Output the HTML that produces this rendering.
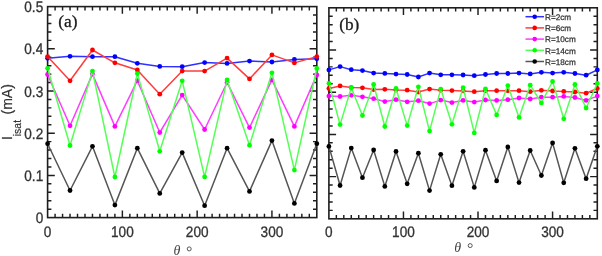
<!DOCTYPE html>
<html><head><meta charset="utf-8"><style>
html,body{margin:0;padding:0;background:#fff;}
body{width:602px;height:256px;overflow:hidden;font-family:"Liberation Sans",sans-serif;}
svg{display:block;}
</style></head><body><div style="will-change:transform;width:602px;height:256px">
<svg width="602" height="256" viewBox="0 0 602 256">
<rect width="602" height="256" fill="#fff"/>
<path d="M55.08 217.6v-3.8M55.08 6.6v3.8M62.56 217.6v-3.8M62.56 6.6v3.8M70.03 217.6v-3.8M70.03 6.6v3.8M77.51 217.6v-3.8M77.51 6.6v3.8M84.99 217.6v-3.8M84.99 6.6v3.8M92.47 217.6v-3.8M92.47 6.6v3.8M99.94 217.6v-3.8M99.94 6.6v3.8M107.42 217.6v-3.8M107.42 6.6v3.8M114.9 217.6v-3.8M114.9 6.6v3.8M122.38 217.6v-7.2M122.38 6.6v7.2M129.86 217.6v-3.8M129.86 6.6v3.8M137.33 217.6v-3.8M137.33 6.6v3.8M144.81 217.6v-3.8M144.81 6.6v3.8M152.29 217.6v-3.8M152.29 6.6v3.8M159.77 217.6v-3.8M159.77 6.6v3.8M167.24 217.6v-3.8M167.24 6.6v3.8M174.72 217.6v-3.8M174.72 6.6v3.8M182.2 217.6v-3.8M182.2 6.6v3.8M189.68 217.6v-3.8M189.68 6.6v3.8M197.16 217.6v-7.2M197.16 6.6v7.2M204.63 217.6v-3.8M204.63 6.6v3.8M212.11 217.6v-3.8M212.11 6.6v3.8M219.59 217.6v-3.8M219.59 6.6v3.8M227.07 217.6v-3.8M227.07 6.6v3.8M234.54 217.6v-3.8M234.54 6.6v3.8M242.02 217.6v-3.8M242.02 6.6v3.8M249.5 217.6v-3.8M249.5 6.6v3.8M256.98 217.6v-3.8M256.98 6.6v3.8M264.46 217.6v-3.8M264.46 6.6v3.8M271.93 217.6v-7.2M271.93 6.6v7.2M279.41 217.6v-3.8M279.41 6.6v3.8M286.89 217.6v-3.8M286.89 6.6v3.8M294.37 217.6v-3.8M294.37 6.6v3.8M301.84 217.6v-3.8M301.84 6.6v3.8M309.32 217.6v-3.8M309.32 6.6v3.8M47.6 209.16h3.8M316.8 209.16h-3.8M47.6 200.72h3.8M316.8 200.72h-3.8M47.6 192.28h3.8M316.8 192.28h-3.8M47.6 183.84h3.8M316.8 183.84h-3.8M47.6 175.4h7.2M316.8 175.4h-7.2M47.6 166.96h3.8M316.8 166.96h-3.8M47.6 158.52h3.8M316.8 158.52h-3.8M47.6 150.08h3.8M316.8 150.08h-3.8M47.6 141.64h3.8M316.8 141.64h-3.8M47.6 133.2h7.2M316.8 133.2h-7.2M47.6 124.76h3.8M316.8 124.76h-3.8M47.6 116.32h3.8M316.8 116.32h-3.8M47.6 107.88h3.8M316.8 107.88h-3.8M47.6 99.44h3.8M316.8 99.44h-3.8M47.6 91h7.2M316.8 91h-7.2M47.6 82.56h3.8M316.8 82.56h-3.8M47.6 74.12h3.8M316.8 74.12h-3.8M47.6 65.68h3.8M316.8 65.68h-3.8M47.6 57.24h3.8M316.8 57.24h-3.8M47.6 48.8h7.2M316.8 48.8h-7.2M47.6 40.36h3.8M316.8 40.36h-3.8M47.6 31.92h3.8M316.8 31.92h-3.8M47.6 23.48h3.8M316.8 23.48h-3.8M47.6 15.04h3.8M316.8 15.04h-3.8" stroke="#1e1e1e" stroke-width="1.45" fill="none"/>
<rect x="47.6" y="6.6" width="269.2" height="211" stroke="#1e1e1e" stroke-width="1.6" fill="none"/>
<path d="M336.36 218.8v-3.8M336.36 7.8v3.8M343.81 218.8v-3.8M343.81 7.8v3.8M351.27 218.8v-3.8M351.27 7.8v3.8M358.72 218.8v-3.8M358.72 7.8v3.8M366.18 218.8v-3.8M366.18 7.8v3.8M373.63 218.8v-3.8M373.63 7.8v3.8M381.09 218.8v-3.8M381.09 7.8v3.8M388.54 218.8v-3.8M388.54 7.8v3.8M396 218.8v-3.8M396 7.8v3.8M403.46 218.8v-7.2M403.46 7.8v7.2M410.91 218.8v-3.8M410.91 7.8v3.8M418.37 218.8v-3.8M418.37 7.8v3.8M425.82 218.8v-3.8M425.82 7.8v3.8M433.28 218.8v-3.8M433.28 7.8v3.8M440.73 218.8v-3.8M440.73 7.8v3.8M448.19 218.8v-3.8M448.19 7.8v3.8M455.64 218.8v-3.8M455.64 7.8v3.8M463.1 218.8v-3.8M463.1 7.8v3.8M470.56 218.8v-3.8M470.56 7.8v3.8M478.01 218.8v-7.2M478.01 7.8v7.2M485.47 218.8v-3.8M485.47 7.8v3.8M492.92 218.8v-3.8M492.92 7.8v3.8M500.38 218.8v-3.8M500.38 7.8v3.8M507.83 218.8v-3.8M507.83 7.8v3.8M515.29 218.8v-3.8M515.29 7.8v3.8M522.74 218.8v-3.8M522.74 7.8v3.8M530.2 218.8v-3.8M530.2 7.8v3.8M537.66 218.8v-3.8M537.66 7.8v3.8M545.11 218.8v-3.8M545.11 7.8v3.8M552.57 218.8v-7.2M552.57 7.8v7.2M560.02 218.8v-3.8M560.02 7.8v3.8M567.48 218.8v-3.8M567.48 7.8v3.8M574.93 218.8v-3.8M574.93 7.8v3.8M582.39 218.8v-3.8M582.39 7.8v3.8M589.84 218.8v-3.8M589.84 7.8v3.8M328.9 210.36h3.8M597.3 210.36h-3.8M328.9 201.92h3.8M597.3 201.92h-3.8M328.9 193.48h3.8M597.3 193.48h-3.8M328.9 185.04h3.8M597.3 185.04h-3.8M328.9 176.6h7.2M597.3 176.6h-7.2M328.9 168.16h3.8M597.3 168.16h-3.8M328.9 159.72h3.8M597.3 159.72h-3.8M328.9 151.28h3.8M597.3 151.28h-3.8M328.9 142.84h3.8M597.3 142.84h-3.8M328.9 134.4h7.2M597.3 134.4h-7.2M328.9 125.96h3.8M597.3 125.96h-3.8M328.9 117.52h3.8M597.3 117.52h-3.8M328.9 109.08h3.8M597.3 109.08h-3.8M328.9 100.64h3.8M597.3 100.64h-3.8M328.9 92.2h7.2M597.3 92.2h-7.2M328.9 83.76h3.8M597.3 83.76h-3.8M328.9 75.32h3.8M597.3 75.32h-3.8M328.9 66.88h3.8M597.3 66.88h-3.8M328.9 58.44h3.8M597.3 58.44h-3.8M328.9 50h7.2M597.3 50h-7.2M328.9 41.56h3.8M597.3 41.56h-3.8M328.9 33.12h3.8M597.3 33.12h-3.8M328.9 24.68h3.8M597.3 24.68h-3.8M328.9 16.24h3.8M597.3 16.24h-3.8" stroke="#1e1e1e" stroke-width="1.45" fill="none"/>
<rect x="328.9" y="7.8" width="268.4" height="211" stroke="#1e1e1e" stroke-width="1.6" fill="none"/>
<polyline points="47.6,58.3 70.03,56.3 92.47,56.7 114.9,56.7 137.33,63.3 159.77,66.4 182.2,66.7 204.63,62.6 227.07,63.4 249.5,61.1 271.93,62 294.37,59.4 316.8,58.8" fill="none" stroke="#3030ff" stroke-width="1.5" stroke-linejoin="round"/>
<circle cx="47.6" cy="58.3" r="2.4" fill="#0000ff"/>
<circle cx="70.03" cy="56.3" r="2.4" fill="#0000ff"/>
<circle cx="92.47" cy="56.7" r="2.4" fill="#0000ff"/>
<circle cx="114.9" cy="56.7" r="2.4" fill="#0000ff"/>
<circle cx="137.33" cy="63.3" r="2.4" fill="#0000ff"/>
<circle cx="159.77" cy="66.4" r="2.4" fill="#0000ff"/>
<circle cx="182.2" cy="66.7" r="2.4" fill="#0000ff"/>
<circle cx="204.63" cy="62.6" r="2.4" fill="#0000ff"/>
<circle cx="227.07" cy="63.4" r="2.4" fill="#0000ff"/>
<circle cx="249.5" cy="61.1" r="2.4" fill="#0000ff"/>
<circle cx="271.93" cy="62" r="2.4" fill="#0000ff"/>
<circle cx="294.37" cy="59.4" r="2.4" fill="#0000ff"/>
<circle cx="316.8" cy="58.8" r="2.4" fill="#0000ff"/>
<polyline points="47.6,56.6 70.03,80.8 92.47,50 114.9,62.8 137.33,70 159.77,94.2 182.2,71.1 204.63,71.1 227.07,58.1 249.5,78.9 271.93,54.9 294.37,62.9 316.8,56.6" fill="none" stroke="#ff3c3c" stroke-width="1.5" stroke-linejoin="round"/>
<circle cx="47.6" cy="56.6" r="2.4" fill="#ff0000"/>
<circle cx="70.03" cy="80.8" r="2.4" fill="#ff0000"/>
<circle cx="92.47" cy="50" r="2.4" fill="#ff0000"/>
<circle cx="114.9" cy="62.8" r="2.4" fill="#ff0000"/>
<circle cx="137.33" cy="70" r="2.4" fill="#ff0000"/>
<circle cx="159.77" cy="94.2" r="2.4" fill="#ff0000"/>
<circle cx="182.2" cy="71.1" r="2.4" fill="#ff0000"/>
<circle cx="204.63" cy="71.1" r="2.4" fill="#ff0000"/>
<circle cx="227.07" cy="58.1" r="2.4" fill="#ff0000"/>
<circle cx="249.5" cy="78.9" r="2.4" fill="#ff0000"/>
<circle cx="271.93" cy="54.9" r="2.4" fill="#ff0000"/>
<circle cx="294.37" cy="62.9" r="2.4" fill="#ff0000"/>
<circle cx="316.8" cy="56.6" r="2.4" fill="#ff0000"/>
<polyline points="47.6,74.5 70.03,125.8 92.47,74.1 114.9,126.4 137.33,80.7 159.77,132.5 182.2,95.1 204.63,129.5 227.07,82.5 249.5,127.6 271.93,79.9 294.37,126.4 316.8,74.9" fill="none" stroke="#ff3cff" stroke-width="1.5" stroke-linejoin="round"/>
<circle cx="47.6" cy="74.5" r="2.4" fill="#ff00ff"/>
<circle cx="70.03" cy="125.8" r="2.4" fill="#ff00ff"/>
<circle cx="92.47" cy="74.1" r="2.4" fill="#ff00ff"/>
<circle cx="114.9" cy="126.4" r="2.4" fill="#ff00ff"/>
<circle cx="137.33" cy="80.7" r="2.4" fill="#ff00ff"/>
<circle cx="159.77" cy="132.5" r="2.4" fill="#ff00ff"/>
<circle cx="182.2" cy="95.1" r="2.4" fill="#ff00ff"/>
<circle cx="204.63" cy="129.5" r="2.4" fill="#ff00ff"/>
<circle cx="227.07" cy="82.5" r="2.4" fill="#ff00ff"/>
<circle cx="249.5" cy="127.6" r="2.4" fill="#ff00ff"/>
<circle cx="271.93" cy="79.9" r="2.4" fill="#ff00ff"/>
<circle cx="294.37" cy="126.4" r="2.4" fill="#ff00ff"/>
<circle cx="316.8" cy="74.9" r="2.4" fill="#ff00ff"/>
<polyline points="47.6,68.3 70.03,145.5 92.47,71.1 114.9,177 137.33,73.6 159.77,151.3 182.2,80.8 204.63,176.9 227.07,79.9 249.5,145.2 271.93,72.8 294.37,170.1 316.8,68.5" fill="none" stroke="#55ff55" stroke-width="1.5" stroke-linejoin="round"/>
<circle cx="47.6" cy="68.3" r="2.4" fill="#00ff00"/>
<circle cx="70.03" cy="145.5" r="2.4" fill="#00ff00"/>
<circle cx="92.47" cy="71.1" r="2.4" fill="#00ff00"/>
<circle cx="114.9" cy="177" r="2.4" fill="#00ff00"/>
<circle cx="137.33" cy="73.6" r="2.4" fill="#00ff00"/>
<circle cx="159.77" cy="151.3" r="2.4" fill="#00ff00"/>
<circle cx="182.2" cy="80.8" r="2.4" fill="#00ff00"/>
<circle cx="204.63" cy="176.9" r="2.4" fill="#00ff00"/>
<circle cx="227.07" cy="79.9" r="2.4" fill="#00ff00"/>
<circle cx="249.5" cy="145.2" r="2.4" fill="#00ff00"/>
<circle cx="271.93" cy="72.8" r="2.4" fill="#00ff00"/>
<circle cx="294.37" cy="170.1" r="2.4" fill="#00ff00"/>
<circle cx="316.8" cy="68.5" r="2.4" fill="#00ff00"/>
<polyline points="47.6,143.7 70.03,190.5 92.47,146.3 114.9,205.1 137.33,148.2 159.77,193.4 182.2,152.6 204.63,205.7 227.07,148.2 249.5,191.4 271.93,140.6 294.37,203.4 316.8,143.7" fill="none" stroke="#555555" stroke-width="1.5" stroke-linejoin="round"/>
<circle cx="47.6" cy="143.7" r="2.4" fill="#000000"/>
<circle cx="70.03" cy="190.5" r="2.4" fill="#000000"/>
<circle cx="92.47" cy="146.3" r="2.4" fill="#000000"/>
<circle cx="114.9" cy="205.1" r="2.4" fill="#000000"/>
<circle cx="137.33" cy="148.2" r="2.4" fill="#000000"/>
<circle cx="159.77" cy="193.4" r="2.4" fill="#000000"/>
<circle cx="182.2" cy="152.6" r="2.4" fill="#000000"/>
<circle cx="204.63" cy="205.7" r="2.4" fill="#000000"/>
<circle cx="227.07" cy="148.2" r="2.4" fill="#000000"/>
<circle cx="249.5" cy="191.4" r="2.4" fill="#000000"/>
<circle cx="271.93" cy="140.6" r="2.4" fill="#000000"/>
<circle cx="294.37" cy="203.4" r="2.4" fill="#000000"/>
<circle cx="316.8" cy="143.7" r="2.4" fill="#000000"/>
<polyline points="328.9,69.9 340.08,66.6 351.27,69.7 362.45,70.6 373.63,73.1 384.82,73.4 396,74.1 407.18,74.5 418.37,77 429.55,73.1 440.73,74.8 451.92,74.8 463.1,75 474.28,75.7 485.47,74.5 496.65,73.5 507.83,73.5 519.02,73.1 530.2,73.9 541.38,72.3 552.57,73.1 563.75,72.3 574.93,73.5 586.12,75.2 597.3,69.9" fill="none" stroke="#3030ff" stroke-width="1.5" stroke-linejoin="round"/>
<circle cx="328.9" cy="69.9" r="2.4" fill="#0000ff"/>
<circle cx="340.08" cy="66.6" r="2.4" fill="#0000ff"/>
<circle cx="351.27" cy="69.7" r="2.4" fill="#0000ff"/>
<circle cx="362.45" cy="70.6" r="2.4" fill="#0000ff"/>
<circle cx="373.63" cy="73.1" r="2.4" fill="#0000ff"/>
<circle cx="384.82" cy="73.4" r="2.4" fill="#0000ff"/>
<circle cx="396" cy="74.1" r="2.4" fill="#0000ff"/>
<circle cx="407.18" cy="74.5" r="2.4" fill="#0000ff"/>
<circle cx="418.37" cy="77" r="2.4" fill="#0000ff"/>
<circle cx="429.55" cy="73.1" r="2.4" fill="#0000ff"/>
<circle cx="440.73" cy="74.8" r="2.4" fill="#0000ff"/>
<circle cx="451.92" cy="74.8" r="2.4" fill="#0000ff"/>
<circle cx="463.1" cy="75" r="2.4" fill="#0000ff"/>
<circle cx="474.28" cy="75.7" r="2.4" fill="#0000ff"/>
<circle cx="485.47" cy="74.5" r="2.4" fill="#0000ff"/>
<circle cx="496.65" cy="73.5" r="2.4" fill="#0000ff"/>
<circle cx="507.83" cy="73.5" r="2.4" fill="#0000ff"/>
<circle cx="519.02" cy="73.1" r="2.4" fill="#0000ff"/>
<circle cx="530.2" cy="73.9" r="2.4" fill="#0000ff"/>
<circle cx="541.38" cy="72.3" r="2.4" fill="#0000ff"/>
<circle cx="552.57" cy="73.1" r="2.4" fill="#0000ff"/>
<circle cx="563.75" cy="72.3" r="2.4" fill="#0000ff"/>
<circle cx="574.93" cy="73.5" r="2.4" fill="#0000ff"/>
<circle cx="586.12" cy="75.2" r="2.4" fill="#0000ff"/>
<circle cx="597.3" cy="69.9" r="2.4" fill="#0000ff"/>
<polyline points="328.9,88.5 340.08,85.9 351.27,87.6 362.45,87.8 373.63,89.6 384.82,89.3 396,90 407.18,90.2 418.37,92 429.55,89.1 440.73,90.3 451.92,90.6 463.1,90.9 474.28,91.7 485.47,90.7 496.65,90.7 507.83,90.7 519.02,90.7 530.2,91.7 541.38,90.3 552.57,91 563.75,91.4 574.93,92 586.12,93.2 597.3,88.5" fill="none" stroke="#ff3c3c" stroke-width="1.5" stroke-linejoin="round"/>
<circle cx="328.9" cy="88.5" r="2.4" fill="#ff0000"/>
<circle cx="340.08" cy="85.9" r="2.4" fill="#ff0000"/>
<circle cx="351.27" cy="87.6" r="2.4" fill="#ff0000"/>
<circle cx="362.45" cy="87.8" r="2.4" fill="#ff0000"/>
<circle cx="373.63" cy="89.6" r="2.4" fill="#ff0000"/>
<circle cx="384.82" cy="89.3" r="2.4" fill="#ff0000"/>
<circle cx="396" cy="90" r="2.4" fill="#ff0000"/>
<circle cx="407.18" cy="90.2" r="2.4" fill="#ff0000"/>
<circle cx="418.37" cy="92" r="2.4" fill="#ff0000"/>
<circle cx="429.55" cy="89.1" r="2.4" fill="#ff0000"/>
<circle cx="440.73" cy="90.3" r="2.4" fill="#ff0000"/>
<circle cx="451.92" cy="90.6" r="2.4" fill="#ff0000"/>
<circle cx="463.1" cy="90.9" r="2.4" fill="#ff0000"/>
<circle cx="474.28" cy="91.7" r="2.4" fill="#ff0000"/>
<circle cx="485.47" cy="90.7" r="2.4" fill="#ff0000"/>
<circle cx="496.65" cy="90.7" r="2.4" fill="#ff0000"/>
<circle cx="507.83" cy="90.7" r="2.4" fill="#ff0000"/>
<circle cx="519.02" cy="90.7" r="2.4" fill="#ff0000"/>
<circle cx="530.2" cy="91.7" r="2.4" fill="#ff0000"/>
<circle cx="541.38" cy="90.3" r="2.4" fill="#ff0000"/>
<circle cx="552.57" cy="91" r="2.4" fill="#ff0000"/>
<circle cx="563.75" cy="91.4" r="2.4" fill="#ff0000"/>
<circle cx="574.93" cy="92" r="2.4" fill="#ff0000"/>
<circle cx="586.12" cy="93.2" r="2.4" fill="#ff0000"/>
<circle cx="597.3" cy="88.5" r="2.4" fill="#ff0000"/>
<polyline points="328.9,96.1 340.08,96.5 351.27,95.3 362.45,96.8 373.63,98.7 384.82,101.6 396,99.7 407.18,101.8 418.37,100.7 429.55,103.6 440.73,100.1 451.92,102.6 463.1,100.4 474.28,102.1 485.47,100 496.65,100.4 507.83,99.7 519.02,98 530.2,99 541.38,97.2 552.57,97.2 563.75,96.4 574.93,97.5 586.12,100.4 597.3,96.1" fill="none" stroke="#ff3cff" stroke-width="1.5" stroke-linejoin="round"/>
<circle cx="328.9" cy="96.1" r="2.4" fill="#ff00ff"/>
<circle cx="340.08" cy="96.5" r="2.4" fill="#ff00ff"/>
<circle cx="351.27" cy="95.3" r="2.4" fill="#ff00ff"/>
<circle cx="362.45" cy="96.8" r="2.4" fill="#ff00ff"/>
<circle cx="373.63" cy="98.7" r="2.4" fill="#ff00ff"/>
<circle cx="384.82" cy="101.6" r="2.4" fill="#ff00ff"/>
<circle cx="396" cy="99.7" r="2.4" fill="#ff00ff"/>
<circle cx="407.18" cy="101.8" r="2.4" fill="#ff00ff"/>
<circle cx="418.37" cy="100.7" r="2.4" fill="#ff00ff"/>
<circle cx="429.55" cy="103.6" r="2.4" fill="#ff00ff"/>
<circle cx="440.73" cy="100.1" r="2.4" fill="#ff00ff"/>
<circle cx="451.92" cy="102.6" r="2.4" fill="#ff00ff"/>
<circle cx="463.1" cy="100.4" r="2.4" fill="#ff00ff"/>
<circle cx="474.28" cy="102.1" r="2.4" fill="#ff00ff"/>
<circle cx="485.47" cy="100" r="2.4" fill="#ff00ff"/>
<circle cx="496.65" cy="100.4" r="2.4" fill="#ff00ff"/>
<circle cx="507.83" cy="99.7" r="2.4" fill="#ff00ff"/>
<circle cx="519.02" cy="98" r="2.4" fill="#ff00ff"/>
<circle cx="530.2" cy="99" r="2.4" fill="#ff00ff"/>
<circle cx="541.38" cy="97.2" r="2.4" fill="#ff00ff"/>
<circle cx="552.57" cy="97.2" r="2.4" fill="#ff00ff"/>
<circle cx="563.75" cy="96.4" r="2.4" fill="#ff00ff"/>
<circle cx="574.93" cy="97.5" r="2.4" fill="#ff00ff"/>
<circle cx="586.12" cy="100.4" r="2.4" fill="#ff00ff"/>
<circle cx="597.3" cy="96.1" r="2.4" fill="#ff00ff"/>
<polyline points="328.9,83.4 340.08,124.6 351.27,87.7 362.45,115.5 373.63,84.5 384.82,126.5 396,88.5 407.18,125.6 418.37,86.8 429.55,131.1 440.73,89.1 451.92,124.3 463.1,87.6 474.28,132.9 485.47,88.8 496.65,114.9 507.83,85.6 519.02,117.4 530.2,85.2 541.38,102.9 552.57,81.5 563.75,118.8 574.93,84.5 586.12,108 597.3,83.4" fill="none" stroke="#55ff55" stroke-width="1.5" stroke-linejoin="round"/>
<circle cx="328.9" cy="83.4" r="2.4" fill="#00ff00"/>
<circle cx="340.08" cy="124.6" r="2.4" fill="#00ff00"/>
<circle cx="351.27" cy="87.7" r="2.4" fill="#00ff00"/>
<circle cx="362.45" cy="115.5" r="2.4" fill="#00ff00"/>
<circle cx="373.63" cy="84.5" r="2.4" fill="#00ff00"/>
<circle cx="384.82" cy="126.5" r="2.4" fill="#00ff00"/>
<circle cx="396" cy="88.5" r="2.4" fill="#00ff00"/>
<circle cx="407.18" cy="125.6" r="2.4" fill="#00ff00"/>
<circle cx="418.37" cy="86.8" r="2.4" fill="#00ff00"/>
<circle cx="429.55" cy="131.1" r="2.4" fill="#00ff00"/>
<circle cx="440.73" cy="89.1" r="2.4" fill="#00ff00"/>
<circle cx="451.92" cy="124.3" r="2.4" fill="#00ff00"/>
<circle cx="463.1" cy="87.6" r="2.4" fill="#00ff00"/>
<circle cx="474.28" cy="132.9" r="2.4" fill="#00ff00"/>
<circle cx="485.47" cy="88.8" r="2.4" fill="#00ff00"/>
<circle cx="496.65" cy="114.9" r="2.4" fill="#00ff00"/>
<circle cx="507.83" cy="85.6" r="2.4" fill="#00ff00"/>
<circle cx="519.02" cy="117.4" r="2.4" fill="#00ff00"/>
<circle cx="530.2" cy="85.2" r="2.4" fill="#00ff00"/>
<circle cx="541.38" cy="102.9" r="2.4" fill="#00ff00"/>
<circle cx="552.57" cy="81.5" r="2.4" fill="#00ff00"/>
<circle cx="563.75" cy="118.8" r="2.4" fill="#00ff00"/>
<circle cx="574.93" cy="84.5" r="2.4" fill="#00ff00"/>
<circle cx="586.12" cy="108" r="2.4" fill="#00ff00"/>
<circle cx="597.3" cy="83.4" r="2.4" fill="#00ff00"/>
<polyline points="328.9,146.4 340.08,185.5 351.27,148.1 362.45,177.7 373.63,150 384.82,186.4 396,151.4 407.18,183.8 418.37,153.2 429.55,190.6 440.73,154.3 451.92,185.7 463.1,151.3 474.28,187.4 485.47,150.2 496.65,180.9 507.83,147 519.02,182.6 530.2,150.5 541.38,175.5 552.57,142.9 563.75,182.8 574.93,148.3 586.12,178.7 597.3,146.3" fill="none" stroke="#555555" stroke-width="1.5" stroke-linejoin="round"/>
<circle cx="328.9" cy="146.4" r="2.4" fill="#000000"/>
<circle cx="340.08" cy="185.5" r="2.4" fill="#000000"/>
<circle cx="351.27" cy="148.1" r="2.4" fill="#000000"/>
<circle cx="362.45" cy="177.7" r="2.4" fill="#000000"/>
<circle cx="373.63" cy="150" r="2.4" fill="#000000"/>
<circle cx="384.82" cy="186.4" r="2.4" fill="#000000"/>
<circle cx="396" cy="151.4" r="2.4" fill="#000000"/>
<circle cx="407.18" cy="183.8" r="2.4" fill="#000000"/>
<circle cx="418.37" cy="153.2" r="2.4" fill="#000000"/>
<circle cx="429.55" cy="190.6" r="2.4" fill="#000000"/>
<circle cx="440.73" cy="154.3" r="2.4" fill="#000000"/>
<circle cx="451.92" cy="185.7" r="2.4" fill="#000000"/>
<circle cx="463.1" cy="151.3" r="2.4" fill="#000000"/>
<circle cx="474.28" cy="187.4" r="2.4" fill="#000000"/>
<circle cx="485.47" cy="150.2" r="2.4" fill="#000000"/>
<circle cx="496.65" cy="180.9" r="2.4" fill="#000000"/>
<circle cx="507.83" cy="147" r="2.4" fill="#000000"/>
<circle cx="519.02" cy="182.6" r="2.4" fill="#000000"/>
<circle cx="530.2" cy="150.5" r="2.4" fill="#000000"/>
<circle cx="541.38" cy="175.5" r="2.4" fill="#000000"/>
<circle cx="552.57" cy="142.9" r="2.4" fill="#000000"/>
<circle cx="563.75" cy="182.8" r="2.4" fill="#000000"/>
<circle cx="574.93" cy="148.3" r="2.4" fill="#000000"/>
<circle cx="586.12" cy="178.7" r="2.4" fill="#000000"/>
<circle cx="597.3" cy="146.3" r="2.4" fill="#000000"/>
<g text-rendering="geometricPrecision" font-family="Liberation Sans, sans-serif" font-size="13.6" fill="#333" stroke="#333" stroke-width="0.3"><text transform="translate(43.2 12.2) scale(1 1.12)" text-anchor="end">0.5</text>
<text transform="translate(43.2 54.4) scale(1 1.12)" text-anchor="end">0.4</text>
<text transform="translate(43.2 96.6) scale(1 1.12)" text-anchor="end">0.3</text>
<text transform="translate(43.2 138.8) scale(1 1.12)" text-anchor="end">0.2</text>
<text transform="translate(43.2 181) scale(1 1.12)" text-anchor="end">0.1</text>
<text transform="translate(43.2 223.2) scale(1 1.12)" text-anchor="end">0</text>
<text transform="translate(47.6 236.6) scale(1 1.12)" text-anchor="middle">0</text>
<text transform="translate(122.38 236.6) scale(1 1.12)" text-anchor="middle">100</text>
<text transform="translate(197.16 236.6) scale(1 1.12)" text-anchor="middle">200</text>
<text transform="translate(271.93 236.6) scale(1 1.12)" text-anchor="middle">300</text>
<text transform="translate(328.9 237.3) scale(1 1.12)" text-anchor="middle">0</text>
<text transform="translate(403.46 237.3) scale(1 1.12)" text-anchor="middle">100</text>
<text transform="translate(478.01 237.3) scale(1 1.12)" text-anchor="middle">200</text>
<text transform="translate(552.57 237.3) scale(1 1.12)" text-anchor="middle">300</text></g>
<text x="58.2" y="26.6" font-family="Liberation Serif, serif" font-size="17.4" fill="#1a1a1a" stroke="#1a1a1a" stroke-width="0.3">(a)</text>
<text x="339.2" y="30.2" font-family="Liberation Serif, serif" font-size="17.2" fill="#1a1a1a" stroke="#1a1a1a" stroke-width="0.3">(b)</text>
<text x="173.4" y="254.6" font-family="Liberation Serif, serif" font-style="italic" font-size="14" fill="#444">&#952;</text>
<circle cx="189.2" cy="248.9" r="2.0" fill="none" stroke="#555" stroke-width="1.0"/>
<text x="454.2" y="252.1" font-family="Liberation Serif, serif" font-style="italic" font-size="14" fill="#444">&#952;</text>
<circle cx="470.2" cy="245.6" r="2.0" fill="none" stroke="#555" stroke-width="1.0"/>
<g transform="translate(12.4,140.1) rotate(-90)" font-family="Liberation Sans, sans-serif" fill="#333" stroke="#333" stroke-width="0.2"><text x="0" y="0" font-size="14">I</text><text x="3.9" y="8.1" font-size="10.5">isat</text><text x="25.6" y="-0.3" font-size="14">(mA)</text></g>
<path d="M525.5 16.7H544" stroke="#3030ff" stroke-width="1.5"/>
<circle cx="534.7" cy="16.7" r="2.3" fill="#0000ff"/>
<text transform="translate(545 20)" text-rendering="geometricPrecision" font-family="Liberation Sans, sans-serif" font-size="8.2" fill="#333" stroke="#333" stroke-width="0.25">R=2cm</text>
<path d="M525.5 27.9H544" stroke="#ff3c3c" stroke-width="1.5"/>
<circle cx="534.7" cy="27.9" r="2.3" fill="#ff0000"/>
<text transform="translate(545 31.2)" text-rendering="geometricPrecision" font-family="Liberation Sans, sans-serif" font-size="8.2" fill="#333" stroke="#333" stroke-width="0.25">R=6cm</text>
<path d="M525.5 39.1H544" stroke="#ff3cff" stroke-width="1.5"/>
<circle cx="534.7" cy="39.1" r="2.3" fill="#ff00ff"/>
<text transform="translate(545 42.4)" text-rendering="geometricPrecision" font-family="Liberation Sans, sans-serif" font-size="8.2" fill="#333" stroke="#333" stroke-width="0.25">R=10cm</text>
<path d="M525.5 50.3H544" stroke="#55ff55" stroke-width="1.5"/>
<circle cx="534.7" cy="50.3" r="2.3" fill="#00ff00"/>
<text transform="translate(545 53.6)" text-rendering="geometricPrecision" font-family="Liberation Sans, sans-serif" font-size="8.2" fill="#333" stroke="#333" stroke-width="0.25">R=14cm</text>
<path d="M525.5 61.5H544" stroke="#555555" stroke-width="1.5"/>
<circle cx="534.7" cy="61.5" r="2.3" fill="#000000"/>
<text transform="translate(545 64.8)" text-rendering="geometricPrecision" font-family="Liberation Sans, sans-serif" font-size="8.2" fill="#333" stroke="#333" stroke-width="0.25">R=18cm</text>
</svg>
</div></body></html>
